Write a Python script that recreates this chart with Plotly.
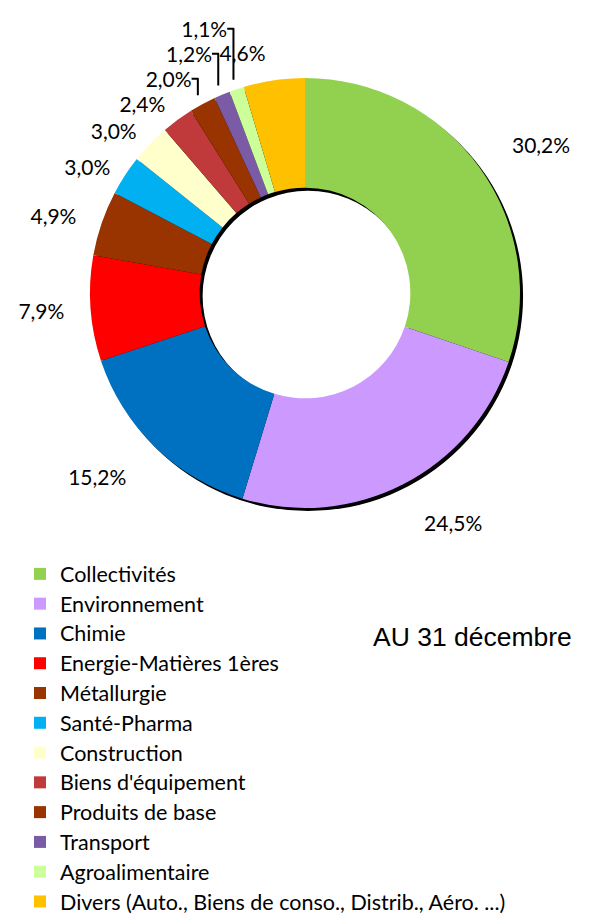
import plotly.graph_objects as go

categories = ["Collectivités", "Environnement", "Chimie", "Energie-Matières 1ères",
              "Métallurgie", "Santé-Pharma", "Construction", "Biens d'équipement",
              "Produits de base", "Transport", "Agroalimentaire",
              "Divers (Auto., Biens de conso., Distrib., Aéro. ...)"]
values = [30.2, 24.5, 15.2, 7.9, 4.9, 3.0, 3.0, 2.4, 2.0, 1.2, 1.1, 4.6]
colors = ["#92D050", "#CC99FF", "#0070C0", "#FF0000", "#993300", "#00B0F0",
          "#FFFFCC", "#C0393B", "#993300", "#7B5BA6", "#CCFF99", "#FFC000"]
date_text = "AU 31 décembre\u00a0\u20092013"

W, H = 589, 915
OFF = 8  # page body margin of the browser
cx, cy, R = 305 - OFF, 293 - OFF, 215
hole = 0.49
s = 3  # shadow offset in px
n = len(values)
# label rings (extra radius, slice indices) for the outside percentage labels
label_rings = [(32, range(0, 3)), (20, range(3, 5)), (10, range(5, n - 1)), (16, [n - 1])]


def dom(r, ox=0, oy=0):
    return dict(x=[(cx - r + ox) / W, (cx + r + ox) / W],
                y=[1 - (cy + r + oy) / H, 1 - (cy - r + oy) / H])


legend_labels = [f"<span style='font-size:21.5px'>{c}</span>" for c in categories]

fig = go.Figure()
# shadow
fig.add_trace(go.Pie(
    values=[1], labels=["ombre"], marker=dict(colors=["#000000"]),
    hole=hole, textinfo="none", hoverinfo="skip", showlegend=False, sort=False,
    domain=dom(R, s, s),
))
# donut
fig.add_trace(go.Pie(
    values=values, labels=legend_labels, marker=dict(colors=colors, line=dict(width=0)),
    hole=hole, sort=False, direction="clockwise", rotation=0,
    textinfo="none", domain=dom(R), showlegend=True,
))
# percentage labels (transparent rings carrying the outside text)
for extra, idx in label_rings:
    fig.add_trace(go.Pie(
        values=values, labels=categories,
        marker=dict(colors=["rgba(0,0,0,0)"] * n, line=dict(width=0)),
        hole=0.95, sort=False, direction="clockwise", rotation=0,
        textposition=["outside" if i in idx else "none" for i in range(n)],
        texttemplate="%{value:.1f}%", hoverinfo="skip",
        outsidetextfont=dict(family="Lato", size=21, color="#000000"),
        domain=dom(R + extra), showlegend=False,
    ))
fig.add_annotation(text=date_text, x=(371 - OFF) / W, y=1 - (637 - OFF) / H,
                   xref="paper", yref="paper",
                   xanchor="left", yanchor="middle", showarrow=False,
                   font=dict(family="Liberation Sans", size=26.5, color="#000000"))
fig.update_layout(
    width=W, height=H, separators=", ",
    margin=dict(l=0, r=0, t=0, b=0, autoexpand=False),
    paper_bgcolor="white", plot_bgcolor="white",
    font=dict(family="Lato", color="#000000"),
    legend=dict(x=12 / W, y=1 - 546 / H, xanchor="left", yanchor="top",
                font=dict(family="Lato", size=20.6, color="#000000"),
                itemwidth=30, bgcolor="rgba(0,0,0,0)"),
)
fig.write_html("out.html")
